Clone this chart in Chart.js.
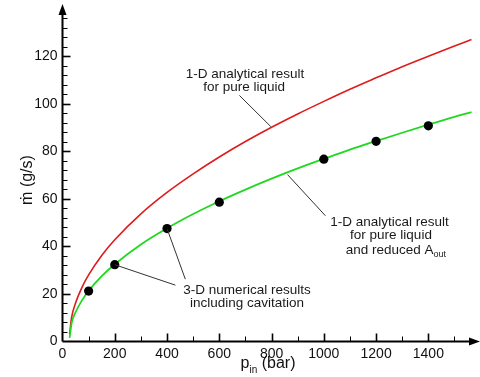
<!DOCTYPE html>
<html>
<head>
<meta charset="utf-8">
<script src="https://cdn.jsdelivr.net/npm/chart.js@4/dist/chart.umd.min.js"></script>
<style>
  html, body { margin: 0; padding: 0; background: #fff; }
  #wrap { width: 480px; height: 377px; }
</style>
</head>
<body>
<div id="wrap"><canvas id="massFlow"></canvas></div>
<script>
// values
const pressure = [27, 35, 50, 75, 100, 150, 200, 300, 400, 500, 600, 700, 800, 900, 1000, 1100, 1200, 1300, 1400, 1500, 1565];
const pureLiquid = [3, 10.2, 16.2, 22.9, 28.0, 36.2, 42.8, 53.7, 62.7, 70.5, 77.6, 84.1, 90.1, 95.7, 101.0, 106.1, 110.9, 115.6, 120.0, 124.3, 127.0];
const reducedAout = [1.5, 7.8, 12.3, 17.4, 21.3, 27.5, 32.5, 40.8, 47.6, 53.6, 59.0, 63.9, 68.5, 72.8, 76.8, 80.7, 84.3, 87.8, 91.2, 94.5, 96.5];

const cfdPressure = [100, 200, 400, 600, 1000, 1200, 1400];
const cfdFlow = [21.2, 32.3, 47.5, 58.6, 76.7, 84.2, 90.7];

const xTicks = [0, 200, 400, 600, 800, 1000, 1200, 1400];
const yTicks = [0, 20, 40, 60, 80, 100, 120];

const FONT = '"Liberation Sans", Arial, sans-serif';

const toPts = (xs, ys) => xs.map((x, i) => ({ x: x, y: ys[i] }));

// annotation labels, anchored in data units
const notes = [
    { x: 698, y: 112.6, text: "1-D analytical result" },
    { x: 695, y: 106.9, text: "for pure liquid" },
    { x: 1251, y: 50.0, text: "1-D analytical result" },
    { x: 1257, y: 44.7, text: "for pure liquid" },
    { x: 1276, y: 38.5, text: "and reduced A", sub: "out" },
    { x: 706, y: 21.6, text: "3-D numerical results" },
    { x: 706, y: 15.9, text: "including cavitation" },
];
const leaders = [
    [677, 103.5, 797, 90.4],
    [861, 70.2, 1006, 52.9],
    [200, 32.3, 432, 23.7],
    [401, 47.2, 470, 26.2],
];

const axesPlugin = {
    id: "axesPlugin",
    afterDatasetsDraw(chart) {
        const ctx = chart.ctx;
        const xs = chart.scales.x;
        const ys = chart.scales.y;
        const x0 = xs.getPixelForValue(0);
        const y0 = ys.getPixelForValue(0);
        ctx.save();

        // leader lines
        ctx.strokeStyle = "#333";
        ctx.lineWidth = 1;
        leaders.forEach(([a, b, c, d]) => {
            ctx.beginPath();
            ctx.moveTo(xs.getPixelForValue(a), ys.getPixelForValue(b));
            ctx.lineTo(xs.getPixelForValue(c), ys.getPixelForValue(d));
            ctx.stroke();
        });

        // annotation texts
        ctx.fillStyle = "#1a1a1a";
        ctx.textBaseline = "middle";
        notes.forEach((n) => {
            const px = xs.getPixelForValue(n.x);
            const py = ys.getPixelForValue(n.y);
            ctx.font = "13.5px " + FONT;
            const w1 = ctx.measureText(n.text).width;
            let w2 = 0;
            if (n.sub) {
                ctx.font = "9px " + FONT;
                w2 = ctx.measureText(n.sub).width;
            }
            const left = px - (w1 + w2) / 2;
            ctx.textAlign = "left";
            ctx.font = "13.5px " + FONT;
            ctx.fillText(n.text, left, py);
            if (n.sub) {
                ctx.font = "9px " + FONT;
                ctx.fillText(n.sub, left + w1, py + 5);
            }
        });

        // axes
        ctx.strokeStyle = "#000";
        ctx.fillStyle = "#000";
        ctx.lineWidth = 2;
        ctx.beginPath();
        ctx.moveTo(x0, y0);
        ctx.lineTo(473, y0);
        ctx.moveTo(x0, y0);
        ctx.lineTo(x0, 12);
        ctx.stroke();
        ctx.beginPath();
        ctx.moveTo(480, y0);
        ctx.lineTo(469, y0 - 4);
        ctx.lineTo(469, y0 + 4);
        ctx.closePath();
        ctx.fill();
        ctx.beginPath();
        ctx.moveTo(x0, 4);
        ctx.lineTo(x0 - 4, 15);
        ctx.lineTo(x0 + 4, 15);
        ctx.closePath();
        ctx.fill();

        // tick marks pointing into the plot
        for (let v = 100; v <= 1500; v += 100) {
            const px = Math.round(xs.getPixelForValue(v)) + 0.5;
            const len = v % 200 === 0 ? 8 : 5;
            ctx.lineWidth = v % 200 === 0 ? 1.6 : 1;
            ctx.beginPath();
            ctx.moveTo(px, y0);
            ctx.lineTo(px, y0 - len);
            ctx.stroke();
        }
        for (let v = 4; v <= 136; v += 4) {
            const py = Math.round(ys.getPixelForValue(v)) + 0.5;
            const len = v % 20 === 0 ? 8 : 5;
            ctx.lineWidth = v % 20 === 0 ? 1.6 : 1;
            ctx.beginPath();
            ctx.moveTo(x0, py);
            ctx.lineTo(x0 + len, py);
            ctx.stroke();
        }

        // axis titles
        ctx.fillStyle = "#111";
        ctx.textAlign = "left";
        ctx.textBaseline = "alphabetic";
        ctx.font = "16px " + FONT;
        const pW = ctx.measureText("p").width;
        ctx.font = "10px " + FONT;
        const inW = ctx.measureText("in").width;
        ctx.font = "16px " + FONT;
        const restW = ctx.measureText(" (bar)").width;
        let tx = 268 - (pW + inW + restW) / 2;
        ctx.fillText("p", tx, 368);
        ctx.font = "10px " + FONT;
        ctx.fillText("in", tx + pW, 373);
        ctx.font = "16px " + FONT;
        ctx.fillText(" (bar)", tx + pW + inW, 368);

        ctx.translate(28, 180);
        ctx.rotate(-Math.PI / 2);
        ctx.textAlign = "center";
        ctx.textBaseline = "middle";
        ctx.font = "16px " + FONT;
        ctx.fillText("\u1E41 (g/s)", 0, 0);
        ctx.restore();
    },
};

new Chart(document.getElementById("massFlow"), {
    type: "scatter",
    data: {
        datasets: [
            {
                label: "3-D numerical",
                data: toPts(cfdPressure, cfdFlow),
                showLine: false,
                pointRadius: 4.6,
                pointBorderWidth: 0,
                pointBackgroundColor: "#000",
                pointBorderColor: "#000",
                order: 0,
            },
            {
                label: "1-D pure liquid",
                data: toPts(pressure, pureLiquid),
                showLine: true,
                borderColor: "#e01b1b",
                borderWidth: 1.6,
                pointRadius: 0,
                cubicInterpolationMode: "monotone",
                order: 2,
            },
            {
                label: "1-D reduced Aout",
                data: toPts(pressure, reducedAout),
                showLine: true,
                borderColor: "#1fd81f",
                borderWidth: 1.8,
                pointRadius: 0,
                cubicInterpolationMode: "monotone",
                order: 1,
            },
        ],
    },
    options: {
        responsive: true,
        maintainAspectRatio: false,
        animation: false,
        layout: { padding: { top: 6, right: 2, left: 0, bottom: 0 } },
        plugins: {
            legend: { display: false },
            tooltip: { enabled: false },
        },
        scales: {
            x: {
                type: "linear",
                min: 0,
                max: 1580,
                grid: { display: false, drawTicks: false },
                border: { display: false },
                afterBuildTicks: (scale) => {
                    scale.ticks = xTicks.map((v) => ({ value: v }));
                },
                afterFit: (scale) => { scale.height = 35.5; },
                ticks: {
                    padding: 4,
                    color: "#111",
                    font: { family: FONT, size: 14 },
                    maxRotation: 0,
                    callback: (value) => String(value),
                },
            },
            y: {
                type: "linear",
                min: 0,
                max: 138,
                grid: { display: false, drawTicks: false },
                border: { display: false },
                afterBuildTicks: (scale) => {
                    scale.ticks = yTicks.map((v) => ({ value: v }));
                },
                afterFit: (scale) => { scale.width = 62.5; },
                ticks: {
                    padding: 5,
                    color: "#111",
                    font: { family: FONT, size: 14 },
                    callback: (value) => String(value),
                },
            },
        },
    },
    plugins: [axesPlugin],
});
</script>
</body>
</html>
